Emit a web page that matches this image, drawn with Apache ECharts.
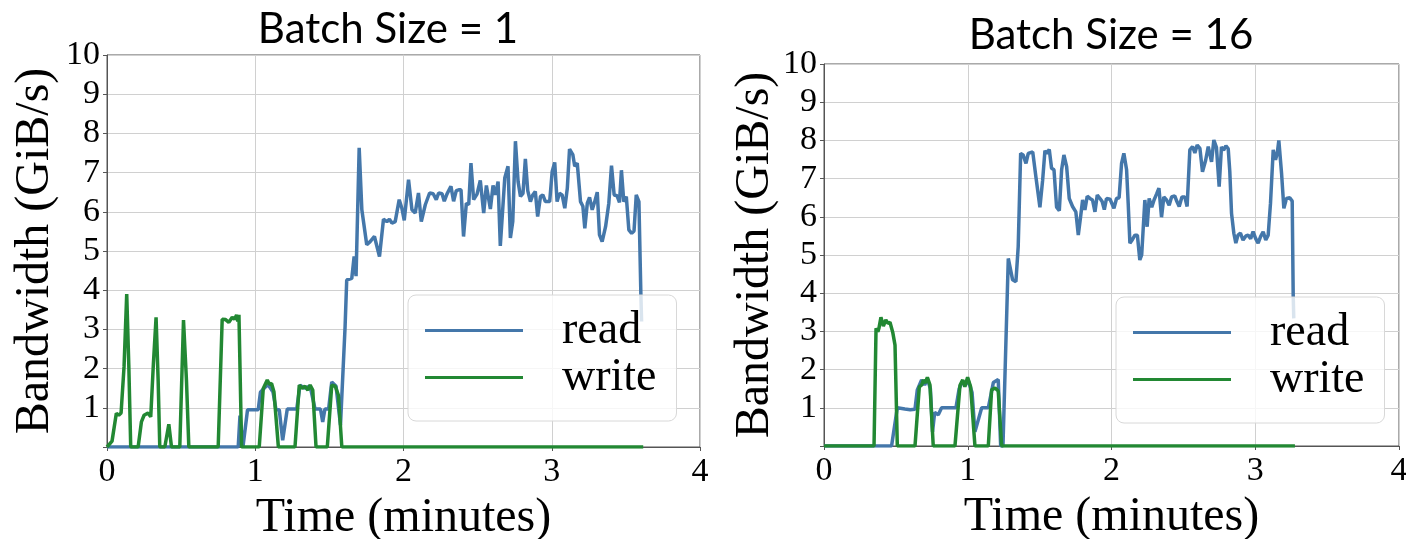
<!DOCTYPE html>
<html><head><meta charset="utf-8">
<script src="https://cdn.jsdelivr.net/npm/echarts@6/dist/echarts.min.js"></script>
<style>html,body{margin:0;padding:0;background:#fff}#c{width:1406px;height:539px}</style>
</head><body><div id="c"></div>
<script>
// ---------- data ----------
const titles = ['Batch Size = 1', 'Batch Size = 16'];
const seriesNames = ['read', 'write'];
const xTickValues = [0, 1, 2, 3, 4];
const yTickValues = [0, 1, 2, 3, 4, 5, 6, 7, 8, 9, 10];
const xAxisName = 'Time (minutes)';
const yAxisName = 'Bandwidth (GiB/s)';

// Batch size 1 : read (time in minutes, bandwidth GiB/s)
const b1ReadTime = [0,0.885,0.897,0.917,0.948,1.02,1.035,1.06,1.085,1.12,1.14,1.162,1.185,1.216,1.28,1.302,1.33,1.37,1.39,1.403,1.44,1.455,1.47,1.495,1.516,1.545,1.575,1.606,1.617,1.651,1.667,1.68,1.701,1.719,1.752,1.775,1.804,1.838,1.865,1.888,1.905,1.922,1.944,1.955,1.971,1.989,2.005,2.034,2.057,2.079,2.101,2.12,2.147,2.176,2.2,2.221,2.237,2.26,2.275,2.293,2.32,2.338,2.356,2.372,2.388,2.405,2.424,2.44,2.455,2.473,2.496,2.518,2.541,2.559,2.586,2.604,2.62,2.638,2.653,2.683,2.705,2.721,2.737,2.755,2.773,2.789,2.806,2.822,2.838,2.856,2.872,2.889,2.905,2.924,2.94,2.957,2.986,3.003,3.02,3.036,3.052,3.07,3.088,3.105,3.12,3.142,3.155,3.172,3.194,3.21,3.223,3.24,3.255,3.273,3.29,3.307,3.322,3.34,3.363,3.385,3.403,3.421,3.44,3.457,3.47,3.486,3.503,3.52,3.539,3.555,3.57,3.588,3.601,3.606];
const b1ReadBw   = [0,0,0.8,0,0.95,0.95,1.4,1.5,1.6,1.4,0.95,0.95,0.17,0.97,0.97,1.58,1.5,1.55,1.2,0.97,0.97,0.64,0.97,0.97,1.66,1.55,0.56,3.07,4.26,4.3,4.86,4.36,7.63,6.05,5.16,5.24,5.37,4.86,5.81,5.75,5.81,5.71,5.75,5.75,6.31,6.09,5.78,6.82,6.05,5.97,6.48,5.75,6.18,6.48,6.46,6.31,6.48,6.46,6.27,6.45,6.65,6.27,6.54,6.56,6.56,5.37,6.22,6.18,7.24,6.31,6.45,6.8,5.97,6.67,6.07,6.67,6.43,6.77,5.13,6.86,7.16,5.33,5.75,7.8,6.77,6.39,6.47,7.35,6.54,6.26,6.43,6.52,5.88,6.39,6.43,6.26,6.26,7.03,7.26,6.26,6.47,6.43,6.09,6.6,7.6,7.46,7.16,7.24,6.26,6.14,5.58,6.22,6.37,6.05,6.26,6.5,5.41,5.24,5.62,6.22,7.18,6.43,6.41,6.24,7.06,6.26,6.39,5.54,5.45,5.51,6.43,6.26,3.92,3.2];

// Batch size 1 : write
const b1WriteTime = [0,0.007,0.034,0.063,0.079,0.095,0.115,0.133,0.147,0.16,0.21,0.232,0.25,0.277,0.295,0.313,0.331,0.345,0.356,0.39,0.417,0.435,0.491,0.516,0.536,0.552,0.75,0.777,0.8,0.822,0.845,0.86,0.874,0.882,0.89,0.908,1.027,1.054,1.081,1.095,1.11,1.126,1.156,1.268,1.297,1.315,1.335,1.355,1.37,1.388,1.41,1.486,1.516,1.54,1.561,1.584,3.617];
const b1WriteBw   = [0,0,0.15,0.86,0.81,0.87,2.05,3.9,2.1,0,0,0.64,0.81,0.87,0.77,2.13,3.31,1.7,0,0,0.58,0,0,3.24,1.7,0,0,3.26,3.25,3.18,3.31,3.26,3.37,3.2,3.37,0,0,1.49,1.71,1.6,1.62,1.41,0,0,1.58,1.5,1.55,1.45,1.58,1.45,0,0,1.58,1.55,1.32,0,0];

// Batch size 16 : read
const b16ReadTime = [0,0.47,0.51,0.563,0.6,0.633,0.649,0.679,0.7,0.72,0.74,0.755,0.77,0.795,0.818,0.918,0.94,0.965,0.985,1.0,1.03,1.05,1.097,1.143,1.178,1.212,1.229,1.245,1.282,1.312,1.335,1.351,1.368,1.385,1.405,1.421,1.452,1.474,1.502,1.521,1.537,1.55,1.567,1.583,1.6,1.618,1.637,1.653,1.669,1.688,1.706,1.729,1.752,1.769,1.785,1.799,1.815,1.831,1.85,1.868,1.885,1.901,1.92,1.935,1.95,1.965,1.99,2.0,2.017,2.035,2.053,2.07,2.086,2.105,2.116,2.128,2.145,2.163,2.18,2.197,2.21,2.232,2.248,2.262,2.28,2.296,2.314,2.33,2.348,2.364,2.383,2.401,2.418,2.44,2.455,2.471,2.49,2.51,2.526,2.545,2.564,2.58,2.596,2.615,2.633,2.655,2.673,2.685,2.696,2.712,2.73,2.749,2.765,2.78,2.796,2.812,2.823,2.835,2.851,2.865,2.88,2.897,2.915,2.935,2.95,2.968,2.985,3.003,3.02,3.037,3.055,3.073,3.09,3.106,3.125,3.141,3.153,3.164,3.183,3.199,3.217,3.24,3.257,3.264,3.268];
const b16ReadBw   = [0,0,1.0,0.97,0.95,0.96,1.47,1.73,1.6,1.75,1.5,0.37,0.88,0.82,1.0,1.0,1.5,1.7,1.6,1.75,1.4,0.37,1.0,1.0,1.66,1.74,0,0,4.91,4.35,4.3,5.22,7.66,7.62,7.4,7.66,7.7,7.05,6.25,6.96,7.73,7.66,7.76,7.27,7.23,6.25,6.16,7.23,7.62,7.31,6.48,6.27,6.13,5.52,6.0,6.44,6.18,6.54,6.48,6.44,6.13,6.57,6.48,6.4,6.19,6.48,6.46,6.48,6.22,6.48,6.5,7.4,7.66,7.23,6.36,5.31,5.4,5.52,5.52,4.87,5.0,6.44,5.74,6.48,6.25,6.44,6.6,6.75,5.99,6.52,6.44,6.3,6.52,6.55,6.4,6.27,6.52,6.52,6.27,7.75,7.84,7.67,7.88,7.79,7.18,7.48,7.84,7.84,7.44,8.01,7.82,6.79,7.83,7.74,7.86,7.78,7.18,6.09,5.57,5.31,5.52,5.57,5.39,5.5,5.52,5.43,5.61,5.43,5.31,5.48,5.61,5.39,5.52,6.35,7.75,7.49,7.66,8.0,7.14,6.22,6.48,6.5,6.41,3.95,3.34];

// Batch size 16 : write
const b16WriteTime = [0,0.348,0.362,0.375,0.382,0.396,0.413,0.43,0.445,0.459,0.478,0.494,0.51,0.633,0.663,0.68,0.691,0.705,0.719,0.737,0.76,0.911,0.946,0.965,0.98,0.999,1.02,1.05,1.143,1.166,1.19,1.212,1.236,3.276];
const b16WriteBw   = [0,0,3.08,2.99,3.08,3.37,3.14,3.3,3.21,3.24,2.98,2.64,0,0,1.55,1.6,1.73,1.65,1.8,1.6,0,0,1.59,1.73,1.55,1.8,1.55,0,0,1.47,1.52,1.44,0,0];

// ---------- chart ----------
const pair = (t, v) => t.map((x, i) => [x, v[i]]);
const colors = {read: '#4477AA', write: '#228833'};
const serif = 'Liberation Serif';
const grids = [
  {left: 107, top: 55, width: 593, height: 392},
  {left: 824, top: 64, width: 575, height: 382}
];
const titlePos = [{left: 383, top: 3}, {left: 1106, top: 9}];
const legendPos = [{left: 408, top: 295}, {left: 1116, top: 297}];
const yNameGap = [48, 42];

const chart = echarts.init(document.getElementById('c'), null, {renderer: 'canvas'});
const option = {
  animation: false,
  backgroundColor: '#fff',
  title: titles.map((t, i) => ({
    text: t, left: titlePos[i].left, top: titlePos[i].top, textAlign: 'center',
    textStyle: {fontFamily: 'Lato', fontSize: 42, fontWeight: 'normal', color: '#000'}
  })),
  grid: grids.map(g => Object.assign({show: true, borderColor: '#555', borderWidth: 1,
    backgroundColor: 'transparent', containLabel: false, outerBoundsMode: 'none'}, g)),
  legend: legendPos.map(p => ({
    data: seriesNames, orient: 'vertical', left: p.left, top: p.top,
    icon: 'rect', itemWidth: 98, itemHeight: 3, itemGap: 0,
    padding: [12, 20, 20, 17],
    backgroundColor: 'rgba(255,255,255,0.8)', borderColor: '#d8d8d8', borderWidth: 1, borderRadius: 8,
    textStyle: {fontFamily: serif, fontSize: 46, color: '#000', lineHeight: 47, padding: [0, 0, 0, 34]}
  })),
  xAxis: grids.map((g, i) => ({
    gridIndex: i, type: 'value', min: xTickValues[0], max: xTickValues[xTickValues.length - 1], interval: 1,
    name: xAxisName, nameLocation: 'middle', nameGap: 30,
    nameTextStyle: {fontFamily: serif, fontSize: 48, color: '#000'},
    axisLine: {show: true, onZero: false, lineStyle: {color: '#555', width: 1}},
    axisTick: {show: true, length: 4, lineStyle: {color: '#555'}},
    axisLabel: {fontFamily: serif, fontSize: 34, color: '#000', margin: 8},
    splitLine: {show: true, lineStyle: {color: '#d0d0d0', width: 1}}
  })),
  yAxis: grids.map((g, i) => ({
    gridIndex: i, type: 'value', min: yTickValues[0], max: yTickValues[yTickValues.length - 1], interval: 1,
    name: yAxisName, nameLocation: 'middle', nameGap: yNameGap[i],
    nameTextStyle: {fontFamily: serif, fontSize: 48, color: '#000'},
    axisLine: {show: true, onZero: false, lineStyle: {color: '#555', width: 1}},
    axisTick: {show: true, length: 4, lineStyle: {color: '#555'}},
    axisLabel: {fontFamily: serif, fontSize: 34, color: '#000', margin: 7,
      formatter: v => (v === 0 ? '' : String(v))},
    splitLine: {show: true, lineStyle: {color: '#d0d0d0', width: 1}}
  })),
  series: [
    {name: 'read', data: pair(b1ReadTime, b1ReadBw), idx: 0},
    {name: 'write', data: pair(b1WriteTime, b1WriteBw), idx: 0},
    {name: 'read', data: pair(b16ReadTime, b16ReadBw), idx: 1},
    {name: 'write', data: pair(b16WriteTime, b16WriteBw), idx: 1}
  ].map(s => ({
    type: 'line', name: s.name, data: s.data, xAxisIndex: s.idx, yAxisIndex: s.idx,
    showSymbol: false, symbol: 'none', color: colors[s.name],
    lineStyle: {color: colors[s.name], width: 3.5}, z: s.name === 'write' ? 3 : 2
  }))
};
chart.setOption(option);
</script>
</body></html>
